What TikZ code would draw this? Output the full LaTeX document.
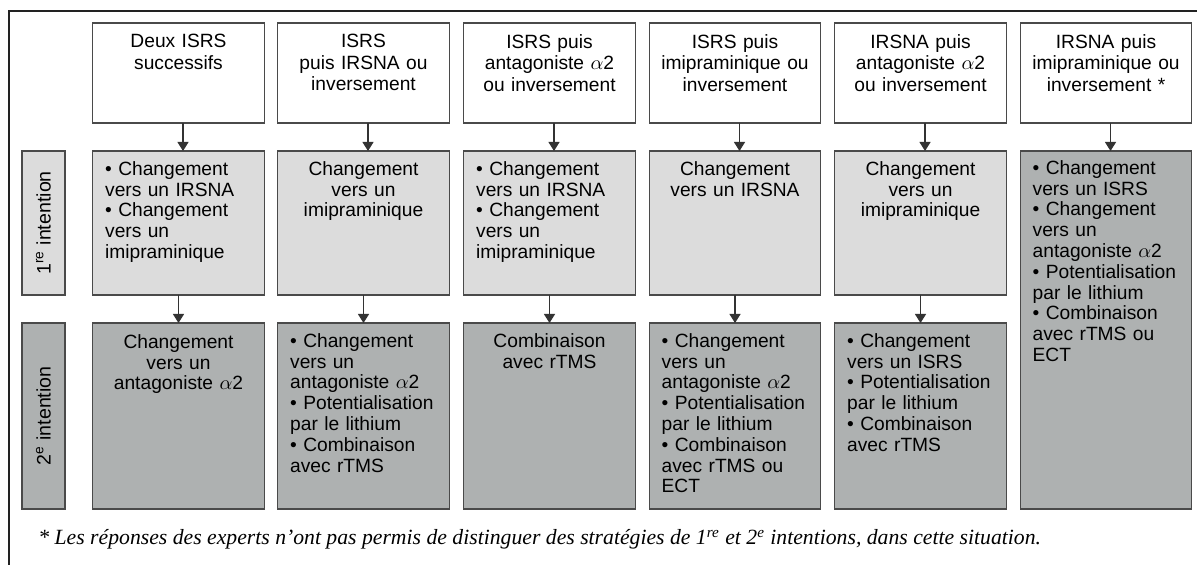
\documentclass[tikz,border=0pt]{standalone}
\usepackage{fontspec}
\setsansfont{Liberation Sans}
\newfontfamily\fnfont{Liberation Serif}
\usetikzlibrary{arrows.meta}
\definecolor{boxline}{HTML}{4A4A4A}
\definecolor{clite}{HTML}{DCDCDC}
\definecolor{cdark}{HTML}{AEB1B1}
\definecolor{framec}{HTML}{222222}
\definecolor{arrc}{HTML}{333333}
\begin{document}
\begin{tikzpicture}[x=0.5pt,y=-0.5pt,
  box/.style={draw=boxline, line width=0.6pt, minimum width=85.75pt, inner sep=0pt, outer sep=0pt},
  topbox/.style={box, fill=white, minimum height=50pt},
  litebox/.style={box, fill=clite, minimum height=72pt},
  darkbox/.style={box, fill=cdark, minimum height=93pt},
  tallbox/.style={box, fill=cdark, minimum height=179pt},
  labbox/.style={draw=boxline, line width=0.6pt, rotate=90, minimum height=21.5pt, inner sep=0pt,
    font=\sffamily\fontsize{9.8}{11}\selectfont},
  ttxt/.style={anchor=north, inner sep=0pt, text width=82pt, align=center,
    font=\sffamily\fontsize{9.6}{10.8}\selectfont},
  ctxt/.style={anchor=north, inner sep=0pt, text width=82pt, align=center,
    font=\sffamily\fontsize{9.6}{10.4}\selectfont},
  ltxt/.style={anchor=north west, inner sep=0pt, text width=80pt, align=left,
    font=\sffamily\fontsize{9.6}{10.4}\selectfont},
  arr/.style={draw=arrc, line width=0.6pt, -{Triangle[width=5.5pt,length=4.5pt]}}
]
\useasboundingbox (0,0) rectangle (1197,565);
\draw[framec, line width=0.9pt] (9,565) -- (9,11) -- (1197,11);

% top boxes
\node[topbox] (t1) at (178.5,73) {};
\node[topbox] (t2) at (363.5,73) {};
\node[topbox] (t3) at (549.5,73) {};
\node[topbox] (t4) at (735,73) {};
\node[topbox] (t5) at (920.5,73) {};
\node[topbox] (t6) at (1106,73) {};
\node[ttxt] (tt1) at ([yshift=-5.5pt]t1.north) {Deux ISRS\\successifs};
\node[ttxt] (tt2) at ([yshift=-5.5pt]t2.north) {ISRS\\puis IRSNA ou\\inversement};
\node[ttxt] (tt3) at ([yshift=-5.5pt]t3.north) {ISRS puis\\antagoniste $\alpha$2\\ou inversement};
\node[ttxt] (tt4) at ([yshift=-5.5pt]t4.north) {ISRS puis\\imipraminique ou\\inversement};
\node[ttxt] (tt5) at ([yshift=-5.5pt]t5.north) {IRSNA puis\\antagoniste $\alpha$2\\ou inversement};
\node[ttxt] (tt6) at ([yshift=-5.5pt]t6.north) {IRSNA puis\\imipraminique ou\\inversement *};

% row labels
\node[labbox, fill=clite, minimum width=72pt] (l1) at (43.5,223) {1\textsuperscript{re} intention};
\node[labbox, fill=cdark, minimum width=93pt] (l2) at (43.5,416) {2\textsuperscript{e} intention};

% row 1
\node[litebox] (r1c1) at (178.5,223) {};
\node[litebox] (r1c2) at (363.5,223) {};
\node[litebox] (r1c3) at (549.5,223) {};
\node[litebox] (r1c4) at (735,223) {};
\node[litebox] (r1c5) at (920.5,223) {};
\node[tallbox] (r1c6) at (1106,330) {};
\node[ltxt] (x11) at ([xshift=6pt,yshift=-5pt]r1c1.north west) {\textbullet\ Changement\\vers un IRSNA\\\textbullet\ Changement\\vers un\\imipraminique};
\node[ctxt] (x12) at ([yshift=-5pt]r1c2.north) {Changement\\vers un\\imipraminique};
\node[ltxt] (x13) at ([xshift=6pt,yshift=-5pt]r1c3.north west) {\textbullet\ Changement\\vers un IRSNA\\\textbullet\ Changement\\vers un\\imipraminique};
\node[ctxt] (x14) at ([yshift=-5pt]r1c4.north) {Changement\\vers un IRSNA};
\node[ctxt] (x15) at ([yshift=-5pt]r1c5.north) {Changement\\vers un\\imipraminique};
\node[ltxt] (x16) at ([xshift=6pt,yshift=-4.5pt]r1c6.north west) {\textbullet\ Changement\\vers un ISRS\\\textbullet\ Changement\\vers un\\antagoniste $\alpha$2\\\textbullet\ Potentialisation\\par le lithium\\\textbullet\ Combinaison\\avec rTMS ou\\ECT};

% row 2
\node[darkbox] (r2c1) at (178.5,416) {};
\node[darkbox] (r2c2) at (363.5,416) {};
\node[darkbox] (r2c3) at (549.5,416) {};
\node[darkbox] (r2c4) at (735,416) {};
\node[darkbox] (r2c5) at (920.5,416) {};
\node[ctxt] (x21) at ([yshift=-5.5pt]r2c1.north) {Changement\\vers un\\antagoniste $\alpha$2};
\node[ltxt] (x22) at ([xshift=6pt,yshift=-5pt]r2c2.north west) {\textbullet\ Changement\\vers un\\antagoniste $\alpha$2\\\textbullet\ Potentialisation\\par le lithium\\\textbullet\ Combinaison\\avec rTMS};
\node[ctxt] (x23) at ([yshift=-5pt]r2c3.north) {Combinaison\\avec rTMS};
\node[ltxt] (x24) at ([xshift=6pt,yshift=-5pt]r2c4.north west) {\textbullet\ Changement\\vers un\\antagoniste $\alpha$2\\\textbullet\ Potentialisation\\par le lithium\\\textbullet\ Combinaison\\avec rTMS ou\\ECT};
\node[ltxt] (x25) at ([xshift=6pt,yshift=-5pt]r2c5.north west) {\textbullet\ Changement\\vers un ISRS\\\textbullet\ Potentialisation\\par le lithium\\\textbullet\ Combinaison\\avec rTMS};

% arrows
\foreach \i in {1,...,6}{
  \draw[arr] ([xshift=2.25pt]t\i.south) -- ([xshift=2.25pt]r1c\i.north);
}
\foreach \i in {1,...,5}{
  \draw[arr] (r1c\i) -- (r2c\i);
}

% footnote
\node[anchor=base west, inner sep=0pt, font=\fnfont\itshape\fontsize{10.85}{12}\selectfont] (fn) at (38,545) {* Les réponses des experts n’ont pas permis de distinguer des stratégies de 1\textsuperscript{re} et 2\textsuperscript{e} intentions, dans cette situation.};
\end{tikzpicture}
\end{document}
